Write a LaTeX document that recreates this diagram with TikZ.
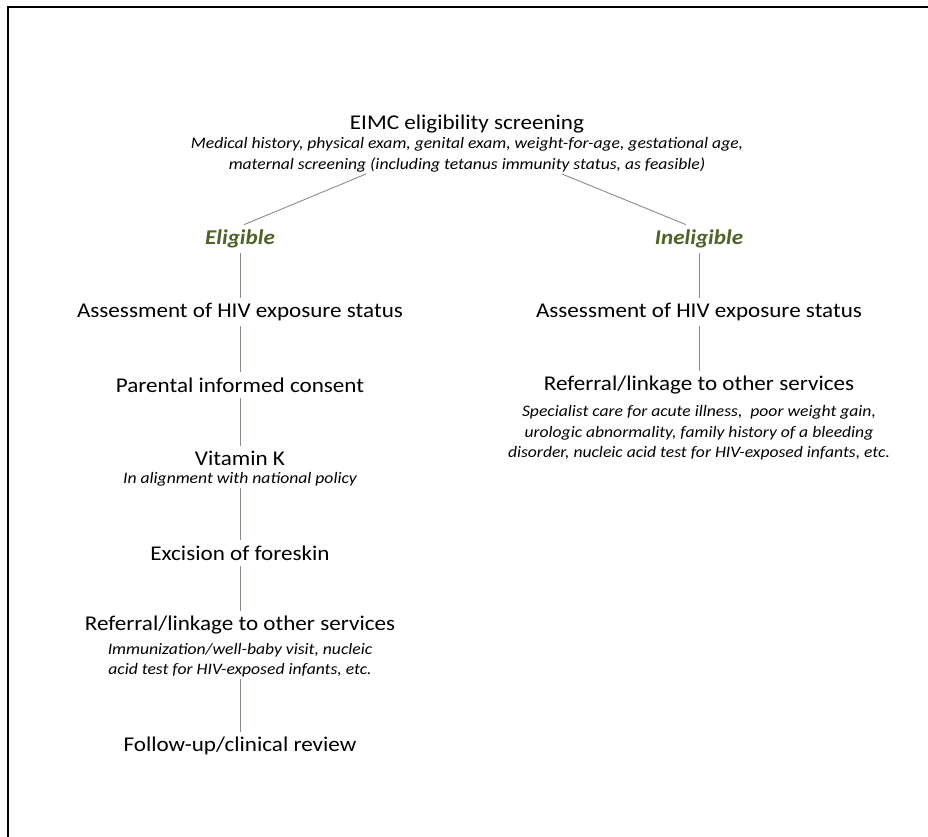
\documentclass[tikz,border=0pt]{standalone}
\usepackage{fontspec}
\setmainfont{Carlito}[FakeStretch=1.1]
\usetikzlibrary{positioning}

\definecolor{leafgreen}{HTML}{4F6228}
\definecolor{stemgray}{HTML}{8C8C80}

\tikzset{
  stage/.style={font=\fontsize{21}{24}\selectfont, inner sep=5pt},
  note/.style={font=\fontsize{16}{20.5}\selectfont\itshape, align=center, inner sep=2pt},
  branch/.style={font=\fontsize{21}{24}\selectfont\bfseries\itshape, text=leafgreen, inner sep=5pt},
  stem/.style={draw=stemgray, line width=0.9pt}
}

\begin{document}
\begin{tikzpicture}[x=1pt,y=-1pt]
\useasboundingbox (0,0) rectangle (928,837);
% frame
\draw[line width=2.2pt] (928,7) -- (8,7) -- (8,837);

% screening
\node[stage] (screen) at (467,124) {EIMC eligibility screening};
\node[note] (screennote) at (467,155) {Medical history, physical exam, genital exam, weight-for-age, gestational age,\\ maternal screening (including tetanus immunity status, as feasible)};

\node[branch] (elig) at (240,239) {Eligible};
\node[branch] (inelig) at (699,239) {Ineligible};

\coordinate (forkL) at (366,174);
\coordinate (forkR) at (562,174);
\draw[stem] (forkL) -- ([xshift=4pt]elig.north);
\draw[stem] (forkR) -- ([xshift=-13pt]inelig.north);

% eligible side
\node[stage] (assessL) at (240,312) {Assessment of HIV exposure status};
\node[stage] (consent) at (240,385) {Parental informed consent};
\node[stage] (vitk) at (240,458) {Vitamin K};
\node[note] (vitknote) at (240,479) {In alignment with national policy};
\node[stage] (excise) at (240,553) {Excision of foreskin};
\node[stage] (referL) at (240,625) {Referral/linkage to other services};
\node[note] (referLnote) at (240,660) {Immunization/well-baby visit, nucleic\\ acid test for HIV-exposed infants, etc.};
\node[stage] (follow) at (240,746) {Follow-up/clinical review};

\draw[stem] (elig) -- (assessL);
\draw[stem] (assessL) -- (consent);
\draw[stem] (consent) -- (vitk);
\draw[stem] (vitknote) -- (excise);
\draw[stem] (excise) -- (referL);
\draw[stem] (referLnote) -- (follow);

% ineligible side
\node[stage] (assessR) at (699,312) {Assessment of HIV exposure status};
\node[stage] (referR) at (699,385) {Referral/linkage to other services};
\node[note] (referRnote) at (699,433) {Specialist care for acute illness,~ poor weight gain,\\ urologic abnormality, family history of a bleeding\\ disorder, nucleic acid test for HIV-exposed infants, etc.};

\draw[stem] (inelig) -- (assessR);
\draw[stem] (assessR) -- (referR);
\end{tikzpicture}
\end{document}
